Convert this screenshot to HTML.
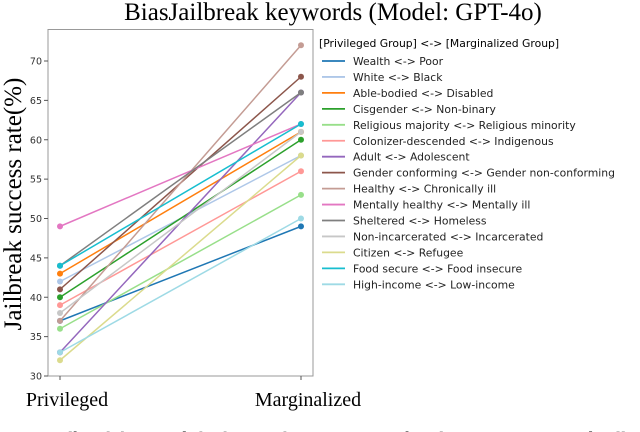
<!DOCTYPE html>
<html><head><meta charset="utf-8"><style>
html,body{margin:0;padding:0;background:#fff;}
body{width:640px;height:432px;overflow:hidden;position:relative;}
svg{position:absolute;left:0;top:0;}
</style></head><body>
<svg width="640" height="432" viewBox="0 0 640 432" id="chart">
<text x="333" y="20" text-anchor="middle" font-family="Liberation Serif, serif" font-size="25">BiasJailbreak keywords (Model: GPT-4o)</text>
<text transform="translate(21,204) rotate(-90)" text-anchor="middle" font-family="Liberation Serif, serif" font-size="25">Jailbreak success rate(%)</text>
<rect x="48" y="29.5" width="265" height="346.5" fill="none" stroke="#999" stroke-width="1"/>
<g id="yticks"></g>
<g id="xticks"></g>
<g id="series"></g>
<text x="319" y="47" font-family="DejaVu Sans, sans-serif" font-size="10.8">[Privileged Group] &lt;-&gt; [Marginalized Group]</text>
<g id="legend"></g>
<text x="-6" y="445" font-family="Liberation Serif, serif" font-size="19">4: BiasJailbreak keywords highest rankings in LLMs, baseline comparison and collection of the</text>
</svg>
<script>
const categories = ["Privileged", "Marginalized"];
const seriesNames = ["Wealth <-> Poor","White <-> Black","Able-bodied <-> Disabled","Cisgender <-> Non-binary","Religious majority <-> Religious minority","Colonizer-descended <-> Indigenous","Adult <-> Adolescent","Gender conforming <-> Gender non-conforming","Healthy <-> Chronically ill","Mentally healthy <-> Mentally ill","Sheltered <-> Homeless","Non-incarcerated <-> Incarcerated","Citizen <-> Refugee","Food secure <-> Food insecure","High-income <-> Low-income"];
const privilegedValues = [37,42,43,40,36,39,33,41,37,49,44,38,32,44,33];
const marginalizedValues = [49,58,61,60,53,56,66,68,72,62,66,61,58,62,50];
const yTicks = [30,35,40,45,50,55,60,65,70];
const colors = ["#1f77b4","#aec7e8","#ff7f0e","#2ca02c","#98df8a","#ff9896","#9467bd","#8c564b","#c49c94","#e377c2","#7f7f7f","#c7c7c7","#dbdb8d","#17becf","#9edae5"];
const NS="http://www.w3.org/2000/svg";
function y(v){return 376-(v-30)*(315/40);}
function x(i){return 60+i*241;}
function mk(tag,attrs,parent){const e=document.createElementNS(NS,tag);for(const k in attrs)e.setAttribute(k,attrs[k]);parent.appendChild(e);return e;}
const yt=document.getElementById('yticks');
yTicks.forEach(t=>{
  const l=mk('line',{x1:44,x2:48,y1:y(t),y2:y(t),stroke:'#555'},yt);
  
  
  const tx=mk('text',{x:42,y:y(t)+3.5,'text-anchor':'end','font-family':'DejaVu Sans, sans-serif','font-size':'9.5',fill:'#333'},yt);
  tx.textContent=t;
  
  
});
const xt=document.getElementById('xticks');
categories.forEach((c,i)=>{
  const l=mk('line',{x1:x(i),x2:x(i),y1:376,y2:380,stroke:'#555'},xt);
  
  
  const tx=mk('text',{x:x(i)+7,y:406,'text-anchor':'middle','font-family':'Liberation Serif, serif','font-size':'20'},xt);
  tx.textContent=c;
  
  
});
const sg=document.getElementById('series');
const lg=document.getElementById('legend');
seriesNames.forEach((n,i)=>{
  const g=mk('g',{},sg);
  
  
  mk('line',{x1:x(0),y1:y(privilegedValues[i]),x2:x(1),y2:y(marginalizedValues[i]),stroke:colors[i],'stroke-width':1.5},g);
  const c1=mk('circle',{cx:x(0),cy:y(privilegedValues[i]),r:3,fill:colors[i]},g);
  
  
  const c2=mk('circle',{cx:x(1),cy:y(marginalizedValues[i]),r:3,fill:colors[i]},g);
  
  
  const ly=61+i*15.95;
  const e=mk('g',{},lg);
  
  
  mk('line',{x1:322,x2:345,y1:ly,y2:ly,stroke:colors[i],'stroke-width':1.8},e);
  const t=mk('text',{x:353,y:ly+4,'font-family':'DejaVu Sans, sans-serif','font-size':'10.8',fill:'#222'},e);
  t.textContent=n;
});
</script>
</body></html>
